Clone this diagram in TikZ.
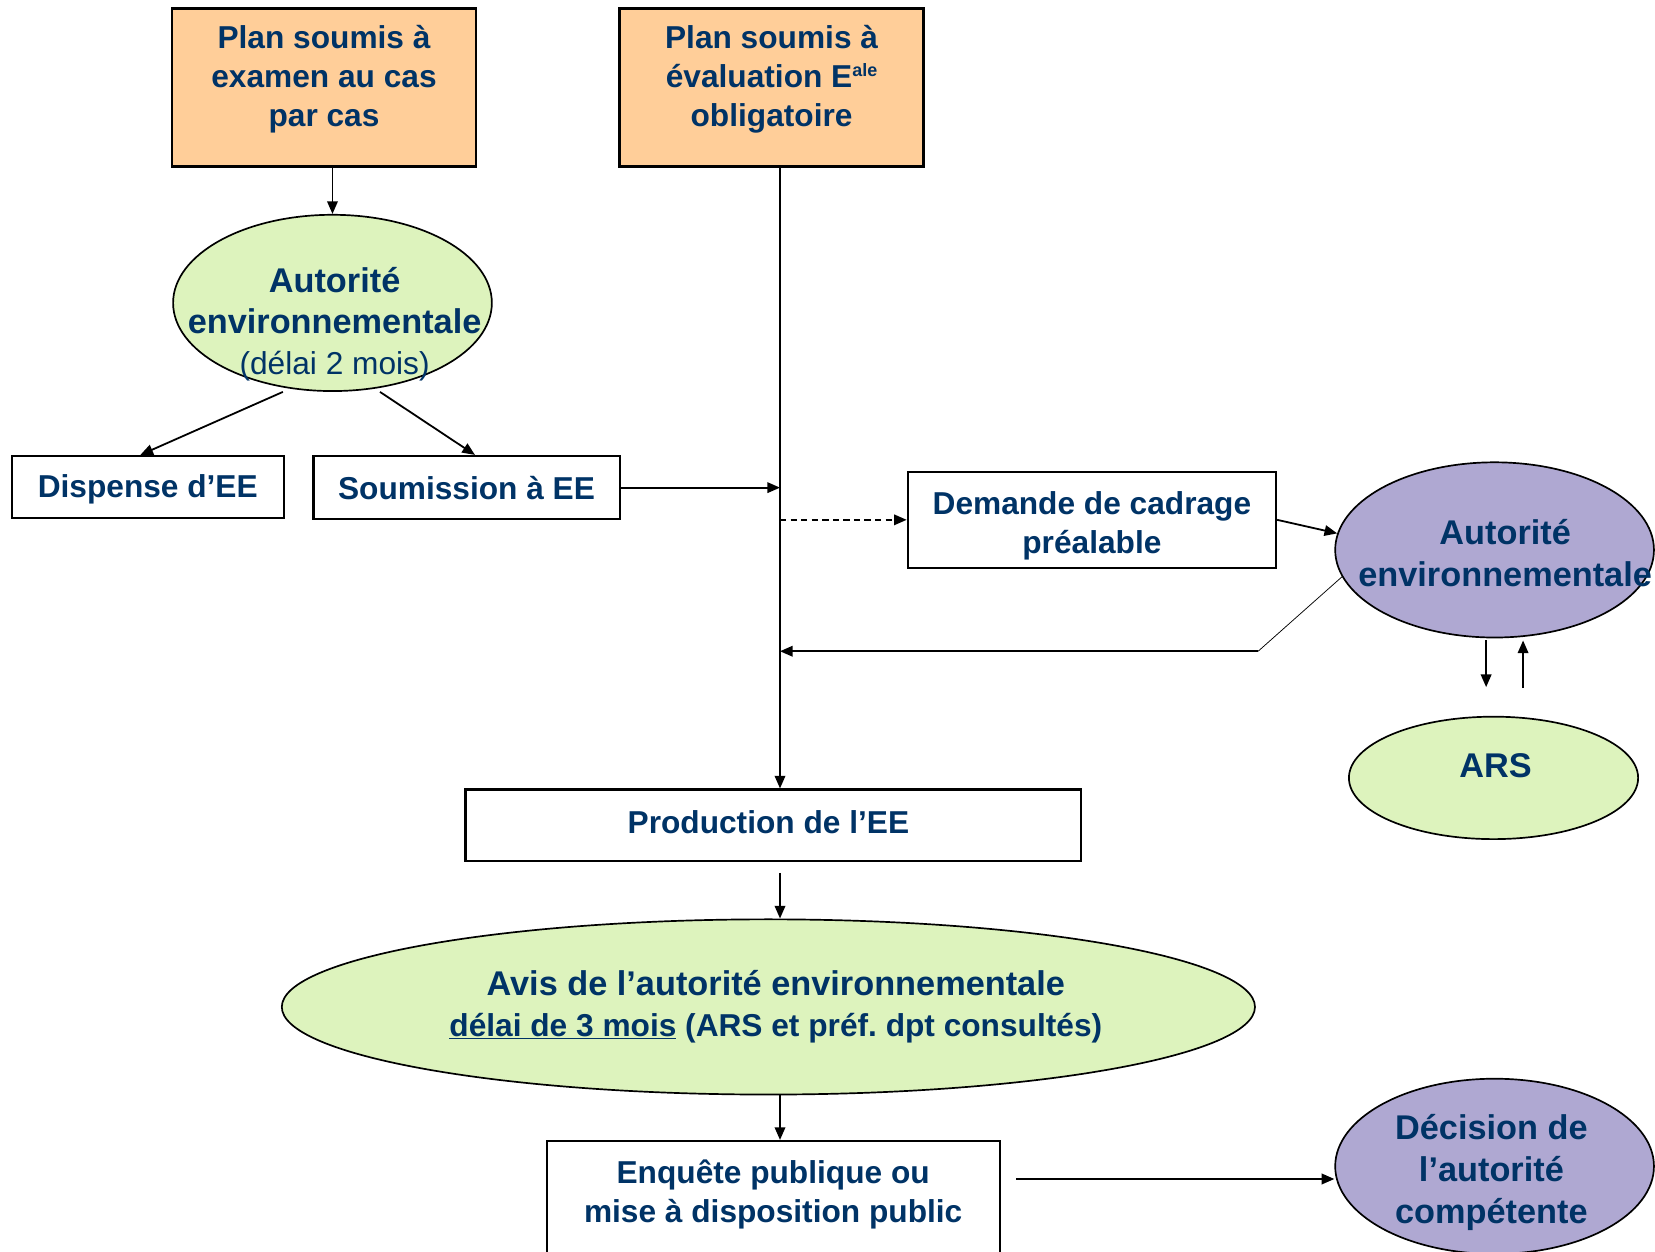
\documentclass[tikz,border=0pt]{standalone}
\usepackage{fontspec}
\setmainfont{Liberation Sans}
\usetikzlibrary{arrows.meta,shapes.geometric}
\definecolor{txt}{RGB}{0,51,102}
\definecolor{peach}{RGB}{255,206,153}
\definecolor{lgreen}{RGB}{221,243,189}
\definecolor{lpurple}{RGB}{175,168,210}
\frenchspacing
\begin{document}
\begin{tikzpicture}[x=1pt,y=-1pt,
  rbox/.style={draw=black, line width=2pt, inner sep=0pt, fill=white},
  tbox/.style={rbox, fill=peach, line width=2.6pt},
  ell/.style={ellipse, draw=black, line width=1.6pt, inner sep=0pt},
  gell/.style={ell, fill=lgreen},
  pell/.style={ell, fill=lpurple},
  lbl/.style={text=txt, font=\bfseries\fontsize{30}{37}\selectfont, align=center, inner sep=0pt},
  lblb/.style={text=txt, font=\bfseries\fontsize{32.5}{39}\selectfont, align=center, inner sep=0pt},
  conn/.style={line width=1.7pt, -{Triangle[length=12pt,width=10pt]}},
]
\useasboundingbox (0,0) rectangle (1568,1186);
\clip (0,0) rectangle (1568,1186);
\fill[white] (0,0) rectangle (1568,1186);

% shapes
\node[tbox, minimum width=288, minimum height=150] (box1) at (307,83) {};
\node[tbox, minimum width=288, minimum height=150] (box2) at (731,83) {};
\node[gell, minimum width=302, minimum height=167] (ell1) at (315,287) {};
\node[rbox, minimum width=258, minimum height=59] (disp) at (140,461.5) {};
\node[rbox, minimum width=290, minimum height=60] (soum) at (442,462) {};
\node[rbox, minimum width=349, minimum height=91] (dem) at (1034.5,492.5) {};
\node[pell, minimum width=302, minimum height=166] (aeP) at (1416,521) {};
\node[gell, minimum width=274, minimum height=116] (ars) at (1415,737) {};
\node[rbox, minimum width=583, minimum height=68] (prod) at (732.5,782) {};
\node[gell, minimum width=922, minimum height=166] (avis) at (728,954) {};
\node[rbox, minimum width=429, minimum height=130] (enq) at (732.5,1146) {};
\node[pell, minimum width=302, minimum height=166] (dec) at (1416,1105) {};

% texts
\node[lbl] (box1t) at (307,75) {Plan soumis à\\examen au cas\\par cas};
\node[lbl] (box2t) at (731,75) {Plan soumis à\\évaluation E\raisebox{10pt}{\fontsize{17}{17}\selectfont ale}\\obligatoire};
\node[lblb] (ell1t) at (317,307) {Autorité\\environnementale\\{\mdseries\fontsize{30}{36}\selectfont (délai 2 mois)}};
\node[lbl] (dispt) at (140,464) {Dispense d’EE};
\node[lbl] (soumt) at (442,462) {Soumission à EE};
\node[lbl] (demt) at (1034.5,498) {Demande de cadrage\\préalable};
\node[lblb] (aePt) at (1426,524) {Autorité\\environnementale};
\node[lblb] (arst) at (1417,725) {ARS};
\node[lbl] (prodt) at (728,779) {Production de l’EE};
\node[lblb] (avist) at (735,954) {Avis de l’autorité environnementale\\{\fontsize{30}{39}\selectfont\underline{délai de 3 mois} (ARS et préf. dpt consultés)}};
\node[lbl] (enqt) at (732.5,1132) {Enquête publique ou\\mise à disposition public};
\node[lblb, font=\bfseries\fontsize{32.5}{40}\selectfont] (dect) at (1413,1111) {Décision de\\l’autorité\\compétente};

% helper coordinates
\coordinate (sp) at (739,0);
\coordinate (bend) at (1192,617);
\coordinate (dn) at (1408,651);
\coordinate (up) at (1443,652);
\coordinate (ey) at (0,1117);

% connectors
\draw[conn] (ell1.north |- box1.south) -- (ell1.north);
\draw[conn] ([xshift=-47pt]ell1.south) -- ([xshift=-7pt]disp.north);
\draw[conn] ([xshift=45pt]ell1.south) -- ([xshift=8pt]soum.north);
\draw[conn] (sp |- box2.south) -- (sp |- prod.north);
\draw[conn] (soum.east) -- (sp |- soum.east);
\draw[conn, dash pattern=on 6pt off 4pt] (sp |- dem.west) -- (dem.west);
\draw[conn] (dem.east) -- (aeP.174);
\draw[line width=0.7pt] (aeP.190) -- (bend);
\draw[conn] (bend) -- (sp |- bend);
\draw[conn] ([yshift=-2pt]aeP.south -| dn) -- (dn);
\draw[conn] (up) -- ([yshift=-2pt]aeP.south -| up);
\draw[conn] ([yshift=-10pt]sp |- prod.south) -- (sp |- avis.north);
\draw[conn] (sp |- avis.south) -- (sp |- enq.north);
\draw[conn] ([xshift=15pt]enq.east |- ey) -- (dec.west |- ey);
\end{tikzpicture}
\end{document}
